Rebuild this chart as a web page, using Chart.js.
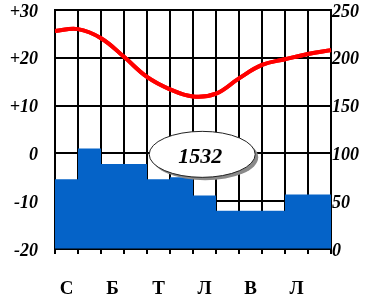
<!DOCTYPE html>
<html>
<head>
<meta charset="utf-8">
<script src="https://cdn.jsdelivr.net/npm/chart.js@4.4.1/dist/chart.umd.min.js"></script>
<style>
  html, body { margin: 0; padding: 0; background: #ffffff; }
  #wrap { width: 369px; height: 303px; position: relative; }
</style>
</head>
<body>
<div id="wrap"><canvas id="c" width="369" height="303"></canvas></div>
<script>
// Ukrainian month initials (January .. December)
const months = ['С', 'Л', 'Б', 'К', 'Т', 'Ч', 'Л', 'С', 'В', 'Ж', 'Л', 'Г'];
// Monthly precipitation, mm (right axis)
const precipitation = [73, 105, 89, 89, 73, 75, 56, 40, 40, 40, 57, 57];
// Temperature curve, °C, read at month boundaries 0..12 (left axis)
const temperature = [25.6, 26.0, 24.1, 20.2, 16.0, 13.4, 11.9, 12.5, 15.7, 18.5, 19.7, 20.8, 21.6];
// Annual precipitation total shown in the oval
const annualTotal = '1532';
// Axis ranges
const tempRange = [-20, 30];
const precipRange = [0, 250];

const serif = "'Liberation Serif', 'Times New Roman', serif";

const overlay = {
  id: 'overlay',
  afterDraw(chart) {
    const ctx = chart.ctx;
    const area = chart.chartArea;
    // temperature line redrawn above the grid
    const meta = chart.getDatasetMeta(1);
    ctx.save();
    ctx.beginPath();
    ctx.rect(area.left - 2, area.top - 4, area.width + 4, area.height + 8);
    ctx.clip();
    meta.dataset.draw(ctx, area);
    ctx.restore();

    // oval with annual total
    const cx = chart.scales.x.getPixelForValue(6.4);
    const cy = chart.scales.y.getPixelForValue(-0.2);
    const rx = 53, ry = 23;
    ctx.save();
    ctx.beginPath();
    ctx.ellipse(cx + 3, cy + 3, rx, ry, 0, 0, Math.PI * 2);
    ctx.fillStyle = '#8a8a8a';
    ctx.fill();
    ctx.beginPath();
    ctx.ellipse(cx, cy, rx, ry, 0, 0, Math.PI * 2);
    ctx.fillStyle = '#ffffff';
    ctx.fill();
    ctx.lineWidth = 1;
    ctx.strokeStyle = '#222222';
    ctx.stroke();
    ctx.fillStyle = '#000000';
    ctx.font = "italic bold 22px " + serif;
    ctx.textAlign = 'center';
    ctx.textBaseline = 'middle';
    ctx.fillText(annualTotal, cx - 2, cy + 3);
    ctx.restore();
  }
};

const noPad = (s) => { s.paddingTop = 0; s.paddingBottom = 0; };

new Chart(document.getElementById('c'), {
  type: 'bar',
  data: {
    datasets: [
      {
        type: 'bar',
        label: 'Опади',
        data: precipitation.map((v, i) => ({ x: i + 0.5, y: v })),
        backgroundColor: '#0563C8',
        borderWidth: 0,
        barPercentage: 1,
        categoryPercentage: 2,
        yAxisID: 'y1',
        xAxisID: 'x',
        order: 2
      },
      {
        type: 'line',
        label: 'Температура',
        data: temperature.map((v, i) => ({ x: i, y: v })),
        borderColor: '#ff0000',
        borderWidth: 4,
        pointRadius: 0,
        tension: 0.4,
        fill: false,
        yAxisID: 'y',
        xAxisID: 'x',
        order: 1
      }
    ]
  },
  options: {
    responsive: false,
    animation: false,
    events: [],
    layout: { autoPadding: false, padding: { top: 10, left: 0, right: 0, bottom: 0 } },
    plugins: { legend: { display: false }, tooltip: { enabled: false } },
    scales: {
      x: {
        type: 'linear',
        position: 'bottom',
        min: 0,
        max: 12,
        offset: false,
        z: 1,
        afterBuildTicks: (s) => {
          const t = [];
          for (let v = 0; v <= 24; v++) t.push({ value: v / 2 });
          s.ticks = t;
        },
        ticks: {
          autoSkip: false,
          maxRotation: 0,
          minRotation: 0,
          padding: 24,
          color: '#000',
          font: { family: serif, size: 19, weight: 'bold' },
          callback: (v) => {
            const i = Math.floor(v);
            return (Math.abs(v - i - 0.5) < 1e-6 && i % 2 === 0) ? months[i] : '';
          }
        },
        grid: {
          offset: false,
          color: (c) => (c.tick && Number.isInteger(c.tick.value)) ? '#000' : 'rgba(0,0,0,0)',
          lineWidth: 2,
          tickLength: 5,
          drawOnChartArea: true
        },
        border: { display: true, color: '#000', width: 2 },
        afterFit: (s) => { s.height = 54; s.paddingLeft = 0; s.paddingRight = 0; }
      },
      y: {
        type: 'linear',
        position: 'left',
        min: tempRange[0],
        max: tempRange[1],
        z: 1,
        ticks: {
          stepSize: 10,
          padding: 17,
          labelOffset: 2,
          color: '#000',
          font: { family: serif, size: 18, weight: 'bold', style: 'italic' },
          callback: (v) => (v > 0 ? '+' + v : String(v))
        },
        grid: { color: '#000', lineWidth: 2, drawTicks: false },
        border: { display: true, color: '#000', width: 2 },
        afterFit: (s) => { s.width = 55; noPad(s); }
      },
      y1: {
        type: 'linear',
        position: 'right',
        min: precipRange[0],
        max: precipRange[1],
        z: 1,
        ticks: {
          stepSize: 50,
          padding: 1,
          labelOffset: 2,
          color: '#000',
          font: { family: serif, size: 18, weight: 'bold', style: 'italic' }
        },
        grid: { drawOnChartArea: false, drawTicks: false },
        border: { display: true, color: '#000', width: 2 },
        afterFit: (s) => { s.width = 38; noPad(s); }
      }
    }
  },
  plugins: [overlay]
});
</script>
</body>
</html>
